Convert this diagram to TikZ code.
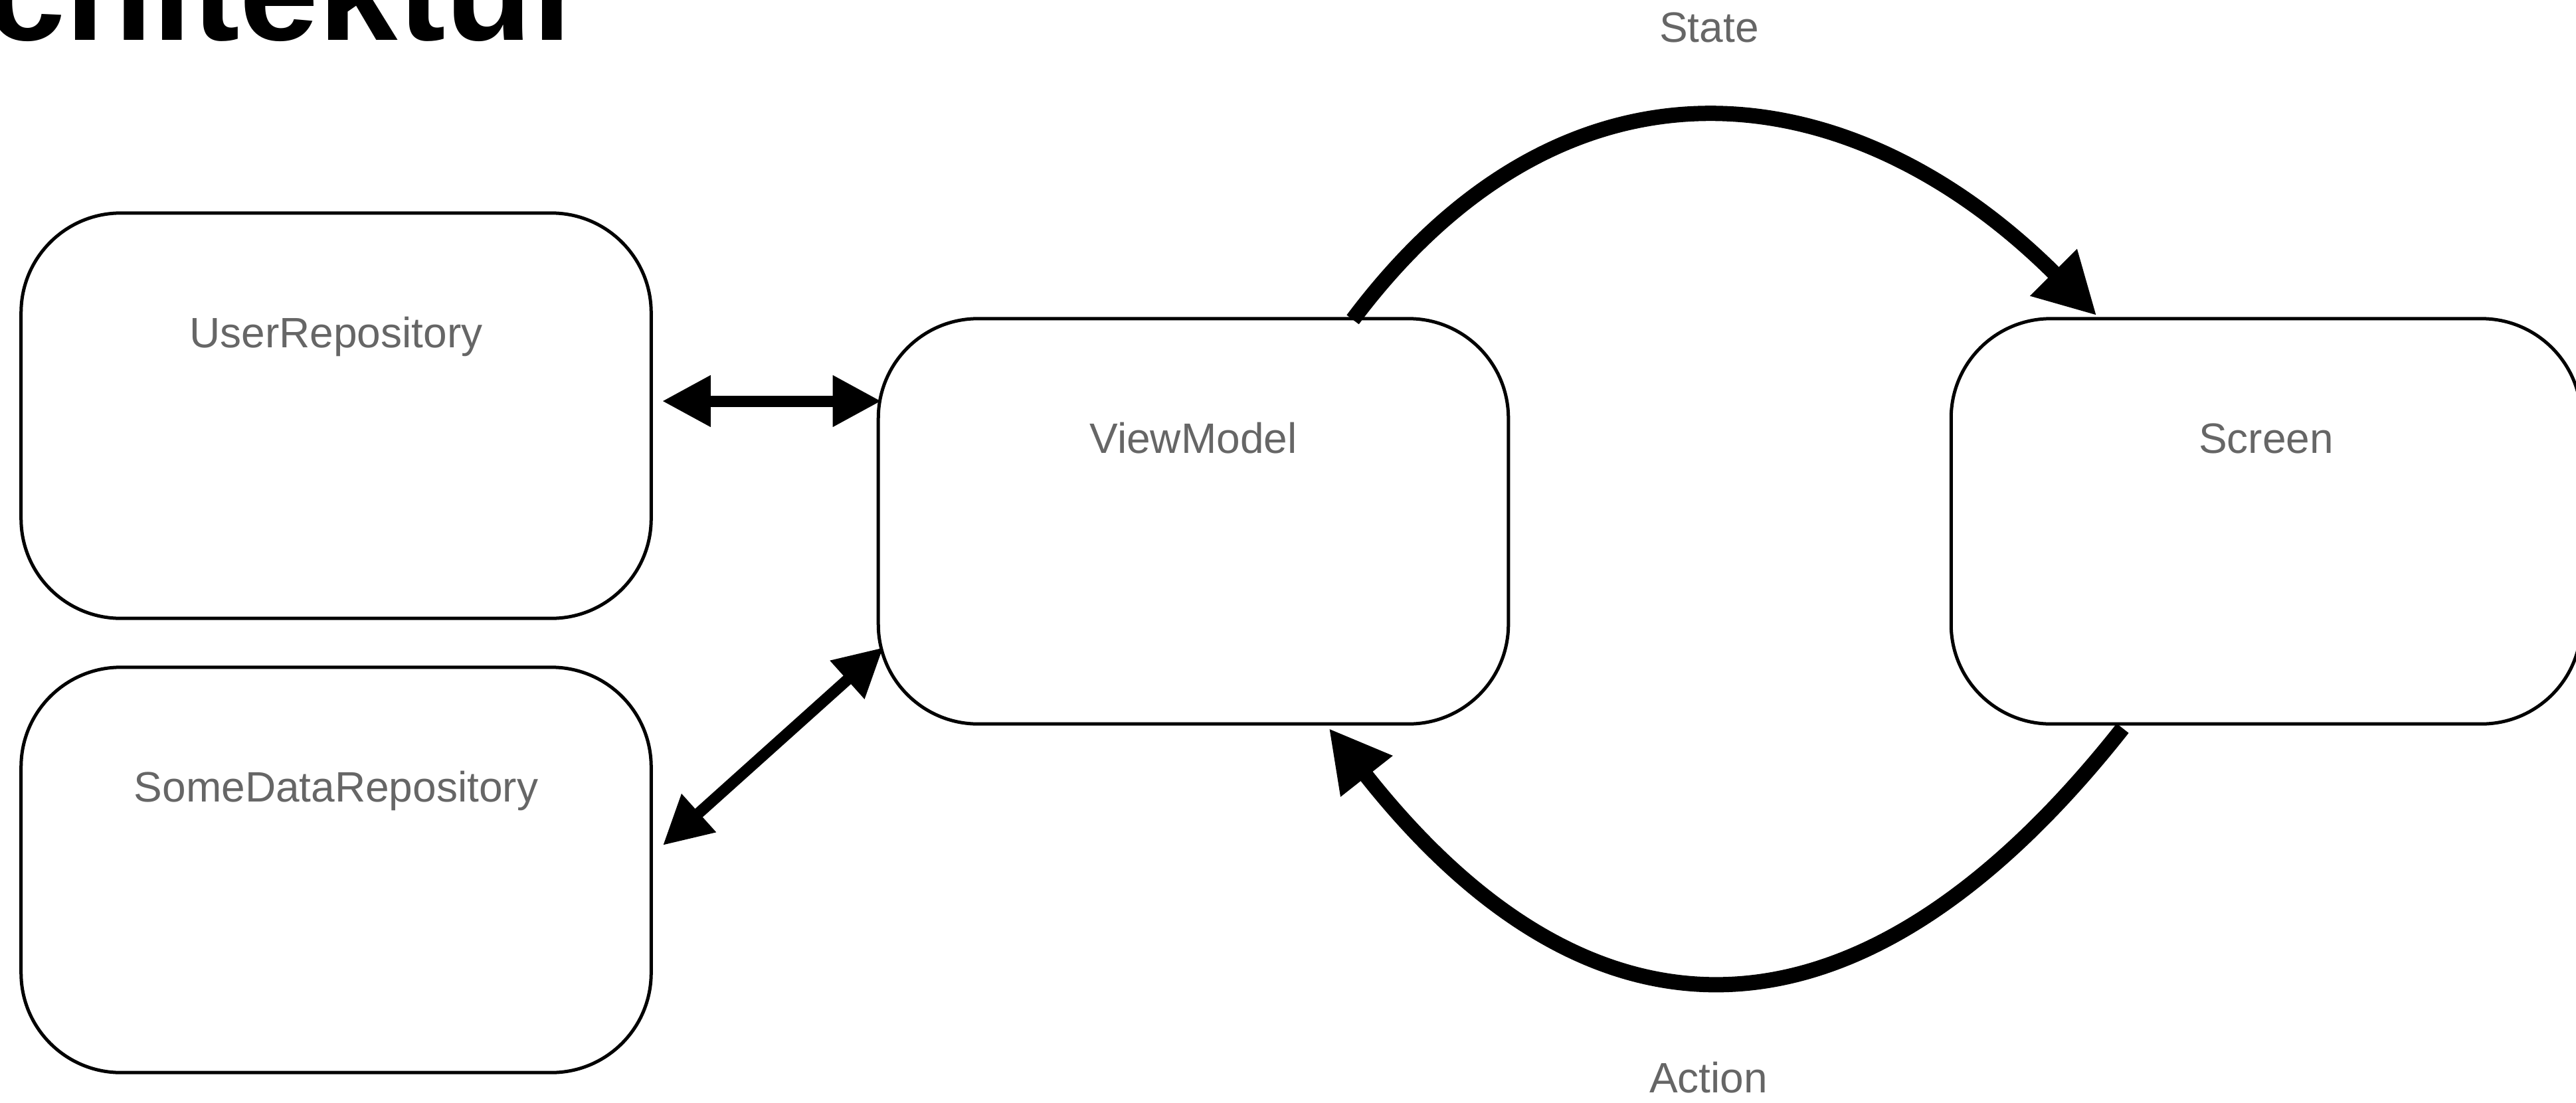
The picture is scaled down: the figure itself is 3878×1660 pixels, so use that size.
\documentclass[tikz,border=0pt]{standalone}
\usepackage{fontspec}
\setmainfont{Liberation Sans}
\usetikzlibrary{arrows.meta,calc}
\definecolor{lblgray}{HTML}{666666}
\begin{document}
\begin{tikzpicture}[x=0.01cm,y=-0.01cm,
  box/.style={draw=black, line width=0.05cm, rounded corners=1.5cm, minimum width=9.48cm, minimum height=6.1cm, inner sep=0pt, fill=white},
  lbl/.style={text=lblgray, font=\fontsize{18.2pt}{22pt}\selectfont, inner sep=0pt, anchor=base},
  thinarrow/.style={line width=0.17cm, {Triangle[length=0.73cm,width=0.73cm]}-{Triangle[length=0.73cm,width=0.73cm]}},
  thickarrow/.style={line width=0.23cm, -{Triangle[length=0.92cm,width=0.93cm]}},
  titlestyle/.style={anchor=base west, inner sep=0pt, font=\fontsize{61pt}{61pt}\selectfont\bfseries}
]
\useasboundingbox (0,0) rectangle (3878,1660);

% title (cropped)
\begin{scope}
  \clip (0,0) rectangle (3878,1660);
  \node[titlestyle] (title) at (-21.5,60) {chitektur};
\end{scope}

% boxes
\node[box] (ur) at (506,626) {};
\node[box] (sd) at (506,1310) {};
\node[box] (vm) at (1796.5,785) {};
\node[box] (sc) at (3411.5,785) {};

% labels
\node[lbl] (urt) at ($(ur.north)+(0,205)$) {UserRepository};
\node[lbl] (sdt) at ($(sd.north)+(0,205)$) {SomeDataRepository};
\node[lbl] (vmt) at ($(vm.north)+(0,205)$) {ViewModel};
\node[lbl] (sct) at ($(sc.north)+(0,205)$) {Screen};
\node[lbl] (st) at (2573,63) {State};
\node[lbl] (ac) at (2572,1645) {Action};

% connectors
\draw[thinarrow] ($(ur.east)+(14,-22)$) -- ($(vm.west)+(7,-181)$);
\draw[thinarrow] ($(sd.east)+(15,-37)$) -- ($(vm.west)+(10,190)$);
\draw[thickarrow] ($(vm.north)+(240,4)$) .. controls +(330,-440) and +(-360,-360) .. ($(sc.north)+(-255,-2)$);
\draw[thickarrow] ($(sc.south)+(-216,4)$) .. controls +(-397,503) and +(396,503) .. ($(vm.south)+(204,4)$);
\end{tikzpicture}
\end{document}
